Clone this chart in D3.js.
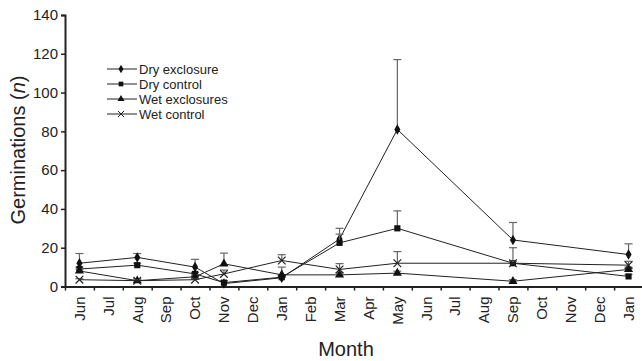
<!DOCTYPE html>
<html>
<head>
<meta charset="utf-8">
<script src="https://cdn.jsdelivr.net/npm/d3@7"></script>
<style>
  body { margin: 0; background: #fff; }
  text { font-family: "Liberation Sans", Arial, sans-serif; fill: #222; }
</style>
</head>
<body>
<script>
// month categories along the x axis
const months = ["Jun","Jul","Aug","Sep","Oct","Nov","Dec","Jan","Feb","Mar","Apr","May",
                "Jun","Jul","Aug","Sep","Oct","Nov","Dec","Jan"];
// index of the months that were sampled
const sampled = [0, 2, 4, 5, 7, 9, 11, 15, 19];

const seriesNames = ["Dry exclosure", "Dry control", "Wet exclosures", "Wet control"];
const dryExclosure = [12, 15, 10, 1.5, 4.5, 24.5, 81, 24, 16.5];
const dryExclosureErr = [5, 2, 4, 1.5, 1.5, 5.5, 36, 9, 5.5];
const dryControl = [9, 11, 6.5, 2, 4.8, 22.5, 30, 12, 5.2];
const dryControlErr = [1, 1, 0.8, 1, 1, 4.5, 9, 8, 1];
const wetExclosures = [8, 3, 5, 11.7, 6, 6, 6.9, 2.7, 8.8];
const wetExclosuresErr = [1, 1, 1, 5.5, 4, 1, 1, 0.8, 1.2];
const wetControl = [3.5, 3, 3.5, 6.5, 13.4, 8.8, 12, 12, 11];
const wetControlErr = [0.5, 0.5, 0.5, 2, 3, 3, 6, 1, 2];
const yTicks = [0, 20, 40, 60, 80, 100, 120, 140];

const w = 642, h = 361;
const margin = {top: 15, right: 0, bottom: 75, left: 65};

const svg = d3.select("body").append("svg")
  .attr("width", w).attr("height", h);

const x = d3.scaleBand()
  .domain(d3.range(months.length))
  .range([margin.left, 643]);
const xb = d3.scaleLinear().domain([0, months.length]).range([margin.left, 643]);
const y = d3.scaleLinear().domain([0, 140]).range([h - margin.bottom + 0.5, margin.top]);

// y axis
const yAxis = svg.append("g")
  .attr("transform", "translate(" + margin.left + ",0)")
  .call(d3.axisLeft(y).tickValues(yTicks).tickSize(4).tickPadding(3));
yAxis.select(".domain").attr("stroke", "#222").attr("stroke-width", 2);
yAxis.selectAll(".tick line").attr("stroke", "#222").attr("stroke-width", 1.5);
yAxis.selectAll("text").style("font-size", "15px").attr("fill", "#222");

// x axis: tick marks on band boundaries, labels centred
const xTicks = svg.append("g")
  .attr("transform", "translate(0," + y(0) + ")")
  .call(d3.axisBottom(xb).ticks(months.length).tickFormat("").tickSize(4).tickSizeOuter(0));
xTicks.select(".domain").attr("stroke", "#222").attr("stroke-width", 2);
xTicks.selectAll(".tick line").attr("stroke", "#222").attr("stroke-width", 1.5);

const xLabels = svg.append("g")
  .attr("transform", "translate(0," + y(0) + ")")
  .call(d3.axisBottom(x).tickSize(0).tickFormat(i => months[i]));
xLabels.select(".domain").remove();
xLabels.selectAll("text")
  .style("font-size", "15px")
  .attr("fill", "#222")
  .attr("text-anchor", "end")
  .attr("dy", "0.35em")
  .attr("transform", "translate(0,10) rotate(-90)")
  .attr("x", 0).attr("y", 0);

// axis titles
svg.append("text")
  .attr("transform", "translate(25,150) rotate(-90)")
  .attr("text-anchor", "middle")
  .style("font-size", "20px")
  .html('Germinations (<tspan font-style="italic">n</tspan>)');

svg.append("text")
  .attr("x", 346).attr("y", 356)
  .attr("text-anchor", "middle")
  .style("font-size", "20px")
  .text("Month");

const symbols = [
  d3.symbol().type(d3.symbolDiamond).size(32),
  d3.symbol().type(d3.symbolSquare).size(38),
  d3.symbol().type(d3.symbolTriangle).size(36),
  d3.symbol().type(d3.symbolTimes).size(40)
];

const seriesVals = [dryExclosure, dryControl, wetExclosures, wetControl];
const seriesErr = [dryExclosureErr, dryControlErr, wetExclosuresErr, wetControlErr];
const cx = i => x(sampled[i]) + x.bandwidth() / 2;

const line = d3.line()
  .x((d, i) => cx(i))
  .y(d => y(d));

seriesVals.forEach((vals, s) => {
  const g = svg.append("g");
  // error bars (upper only)
  vals.forEach((v, i) => {
    const top = y(v + seriesErr[s][i]);
    g.append("line")
      .attr("x1", cx(i)).attr("x2", cx(i))
      .attr("y1", y(v)).attr("y2", top)
      .attr("stroke", "#666").attr("stroke-width", 1.2);
    g.append("line")
      .attr("x1", cx(i) - 4).attr("x2", cx(i) + 4)
      .attr("y1", top).attr("y2", top)
      .attr("stroke", "#666").attr("stroke-width", 1.2);
  });
  g.append("path")
    .datum(vals)
    .attr("fill", "none")
    .attr("stroke", "#222")
    .attr("stroke-width", 1)
    .attr("d", line);
  g.selectAll(".pt")
    .data(vals)
    .enter()
    .append("path")
    .attr("class", "pt")
    .attr("transform", (d, i) => "translate(" + cx(i) + "," + y(d) + ")")
    .attr("d", symbols[s])
    .attr("fill", s === 3 ? "none" : "#111")
    .attr("stroke", s === 3 ? "#222" : "none")
    .attr("stroke-width", s === 3 ? 1.2 : 0);
});

// legend
const legend = svg.append("g").attr("transform", "translate(107,69)");
seriesNames.forEach((name, s) => {
  const row = legend.append("g").attr("transform", "translate(0," + s * 15 + ")");
  row.append("line").attr("x1", 0).attr("x2", 30).attr("stroke", "#222").attr("stroke-width", 1);
  const sym = d3.symbol().type([d3.symbolDiamond, d3.symbolSquare, d3.symbolTriangle, d3.symbolTimes][s]).size(s === 3 ? 26 : 22)();
  row.append("path").attr("d", sym)
    .attr("transform", "translate(14,0)")
    .attr("fill", s === 3 ? "none" : "#111")
    .attr("stroke", s === 3 ? "#222" : "none")
    .attr("stroke-width", 1);
  row.append("text").attr("x", 32).attr("dy", "0.35em")
    .style("font-size", "13px").text(name);
});
</script>
</body>
</html>
